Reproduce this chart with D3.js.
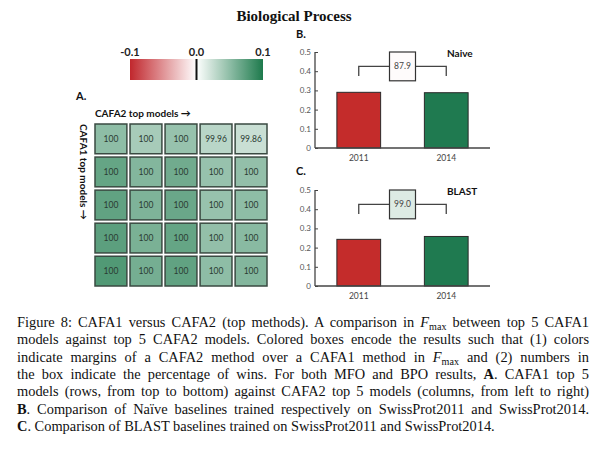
<!DOCTYPE html>
<html><head><meta charset="utf-8">
<script src="https://cdn.jsdelivr.net/npm/d3@7"></script>
<style>body{margin:0;background:#fff} svg{display:block}</style>
</head><body><svg id="c" width="604" height="471"></svg>
<script>
// ---------- data ----------
const title = "Biological Process";
const cafa1Models = ["CAFA1-1","CAFA1-2","CAFA1-3","CAFA1-4","CAFA1-5"];   // rows
const cafa2Models = ["CAFA2-1","CAFA2-2","CAFA2-3","CAFA2-4","CAFA2-5"];   // columns
const winPct = [
  ["100","100","100","99.96","99.86"],
  ["100","100","100","100","100"],
  ["100","100","100","100","100"],
  ["100","100","100","100","100"],
  ["100","100","100","100","100"]
];
const margins = [
  [0.050, 0.039, 0.046, 0.031, 0.024],
  [0.068, 0.055, 0.063, 0.046, 0.048],
  [0.070, 0.057, 0.066, 0.046, 0.050],
  [0.072, 0.059, 0.068, 0.048, 0.052],
  [0.077, 0.061, 0.070, 0.050, 0.055]
];
const colorTicks = [-0.1, 0.0, 0.1];
const colorTickLabels = ["-0.1", "0.0", "0.1"];
const years = ["2011", "2014"];
const naiveFmax = [0.290, 0.288];
const blastFmax = [0.243, 0.258];
const naiveWin = "87.9";
const blastWin = "99.0";
const yTicks = [0, 0.1, 0.2, 0.3, 0.4, 0.5];
const yTickLabels = ["0", "0.1", "0.2", "0.3", "0.4", "0.5"];
const captionLines = [
  [["Figure 8: CAFA1 versus CAFA2 (top methods). A comparison in ","n"],["F","i"],["max","s"],[" between top 5 CAFA1","n"]],
  [["models against top 5 CAFA2 models. Colored boxes encode the results such that (1) colors","n"]],
  [["indicate margins of a CAFA2 method over a CAFA1 method in ","n"],["F","i"],["max","s"],[" and (2) numbers in","n"]],
  [["the box indicate the percentage of wins. For both MFO and BPO results, ","n"],["A","b"],[". CAFA1 top 5","n"]],
  [["models (rows, from top to bottom) against CAFA2 top 5 models (columns, from left to right)","n"]],
  [["B","b"],[". Comparison of Naïve baselines trained respectively on SwissProt2011 and SwissProt2014.","n"]],
  [["C","b"],[". Comparison of BLAST baselines trained on SwissProt2011 and SwissProt2014.","n"]]
];

// ---------- drawing ----------
const svg = d3.select("#c");
const SANS = "Lato, 'DejaVu Sans', sans-serif";
const SERIF = "'Liberation Serif', 'Times New Roman', serif";

const green = "#1d7a4c", red = "#c1272d";
const color = d3.scaleLinear().domain([-0.1, 0, 0.1]).range([red, "#ffffff", green]);

svg.append("text").attr("x", 294).attr("y", 21).attr("text-anchor", "middle")
  .attr("font-family", SERIF).attr("font-weight", "bold").attr("font-size", 15)
  .attr("fill", "#111").text(title);

// colour bar
const cbX = d3.scaleLinear().domain([-0.1, 0.1]).range([130, 263]);
const defs = svg.append("defs");
const grad = defs.append("linearGradient").attr("id", "cb");
d3.range(0, 1.0001, 0.05).forEach(t => {
  grad.append("stop").attr("offset", t).attr("stop-color", color(-0.1 + 0.2 * t));
});
svg.append("rect").attr("x", cbX(-0.1)).attr("y", 59).attr("width", cbX(0.1) - cbX(-0.1)).attr("height", 21)
  .attr("fill", "url(#cb)");
svg.append("line").attr("x1", cbX(0)).attr("x2", cbX(0)).attr("y1", 59).attr("y2", 80)
  .attr("stroke", "#111").attr("stroke-width", 2);
svg.selectAll(".cbt").data(colorTicks).join("text")
  .attr("x", d => cbX(d)).attr("y", 56).attr("text-anchor", "middle")
  .attr("font-family", SANS).attr("font-weight", "bold").attr("font-size", 11).attr("fill", "#222")
  .text((d, i) => colorTickLabels[i]);

// panel A heatmap
const hx = d3.scaleBand().domain(cafa2Models).range([95, 267]).paddingInner(0.09);
const hy = d3.scaleBand().domain(cafa1Models).range([124, 286]).paddingInner(0.1);
svg.append("text").attr("x", 76).attr("y", 100).attr("font-family", SANS).attr("font-weight", "bold")
  .attr("font-size", 11).attr("fill", "#111").text("A.");
svg.append("text").attr("x", 95).attr("y", 117).attr("font-family", SANS).attr("font-weight", "bold")
  .attr("font-size", 10).attr("fill", "#111").text("CAFA2 top models →");
svg.append("text").attr("transform", "translate(79.5,124) rotate(90)").attr("font-family", SANS)
  .attr("font-weight", "bold").attr("font-size", 10).attr("fill", "#111").text("CAFA1 top models →");

const cells = [];
cafa1Models.forEach((r, i) => cafa2Models.forEach((c, j) =>
  cells.push({ r, c, m: margins[i][j], w: winPct[i][j] })));
const cg = svg.append("g").selectAll("g").data(cells).join("g");
cg.append("rect").attr("x", d => hx(d.c)).attr("y", d => hy(d.r))
  .attr("width", hx.bandwidth()).attr("height", hy.bandwidth())
  .attr("fill", d => color(d.m)).attr("stroke", "#3a4a42").attr("stroke-width", 1.5);
cg.append("text").attr("x", d => hx(d.c) + hx.bandwidth() / 2).attr("y", d => hy(d.r) + hy.bandwidth() / 2 + 3)
  .attr("text-anchor", "middle").attr("font-family", SANS).attr("font-size", 8.5).attr("fill", "#2a3a32")
  .text(d => d.w);

// bar panels
function barPanel(letter, label, values, win, y0, y1, labY) {
  const x = d3.scaleBand().domain(years).range([315, 490]).paddingInner(0.5).paddingOuter(0.25);
  const y = d3.scaleLinear().domain([0, 0.5]).range([y0, y1]);
  const g = svg.append("g");
  svg.append("text").attr("x", 296).attr("y", labY).attr("font-family", SANS).attr("font-weight", "bold")
    .attr("font-size", 11).attr("fill", "#111").text(letter);
  g.selectAll("rect.bar").data(values).join("rect")
    .attr("x", (d, i) => x(years[i])).attr("y", d => y(d))
    .attr("width", x.bandwidth()).attr("height", d => y(0) - y(d))
    .attr("fill", (d, i) => i === 0 ? "#c42c2b" : "#1f7a50")
    .attr("stroke", "#2a2a2a").attr("stroke-width", 1);
  const ya = d3.axisRight(y).tickValues(yTicks).tickSize(3).tickFormat("");
  const yg = g.append("g").attr("transform", "translate(315,0)").call(ya);
  yg.select(".domain").remove();
  yg.selectAll("line").attr("stroke", "#444");
  g.append("line").attr("x1", 315).attr("x2", 315).attr("y1", y(0)).attr("y2", y(0.5))
    .attr("stroke", "#444").attr("stroke-width", 1.3);
  g.selectAll("text.yt").data(yTicks).join("text")
    .attr("x", 311).attr("y", d => y(d) + 3).attr("text-anchor", "end")
    .attr("font-family", SANS).attr("font-size", 8).attr("fill", "#555")
    .text((d, i) => yTickLabels[i]);
  g.append("line").attr("x1", 315).attr("x2", 490).attr("y1", y(0)).attr("y2", y(0))
    .attr("stroke", "#444").attr("stroke-width", 1.3);
  g.selectAll("text.xt").data(years).join("text")
    .attr("x", d => x(d) + x.bandwidth() / 2).attr("y", y(0) + 13).attr("text-anchor", "middle")
    .attr("font-family", SANS).attr("font-size", 8.5).attr("fill", "#444").text(d => d);
  const c0 = x(years[0]) + x.bandwidth() / 2, c1 = x(years[1]) + x.bandwidth() / 2;
  const mid = (c0 + c1) / 2;
  g.append("path").attr("d", `M${c0},${y(0.375)}V${y(0.425)}H${c1}V${y(0.375)}`)
    .attr("fill", "none").attr("stroke", "#444").attr("stroke-width", 1.3);
  g.append("rect").attr("x", mid - 13).attr("y", y(0.5)).attr("width", 26).attr("height", y(0.35) - y(0.5))
    .attr("fill", color(values[1] - values[0])).attr("stroke", "#333").attr("stroke-width", 1.2);
  g.append("text").attr("x", mid).attr("y", y(0.425) + 3).attr("text-anchor", "middle")
    .attr("font-family", SANS).attr("font-size", 8.5).attr("fill", "#444").text(win);
  g.append("text").attr("x", 447).attr("y", y(0.5) + 5).attr("font-family", SANS).attr("font-weight", "bold")
    .attr("font-size", 10).attr("fill", "#111").text(label);
}
barPanel("B.", "Naive", naiveFmax, naiveWin, 148, 52, 38);
barPanel("C.", "BLAST", blastFmax, blastWin, 286, 190, 175);

// caption
const capLeft = 17, capRight = 589, capTop = 327, capStep = 17.3, capSize = 14.4;
captionLines.forEach((segs, li) => {
  const t = svg.append("text").attr("x", capLeft).attr("y", capTop + li * capStep)
    .attr("font-family", SERIF).attr("font-size", capSize).attr("fill", "#111");
  segs.forEach(([s, st]) => {
    const ts = t.append("tspan").text(s);
    if (st === "i") ts.attr("font-style", "italic");
    if (st === "b") ts.attr("font-weight", "bold");
    if (st === "s") ts.attr("font-size", capSize * 0.7).attr("dy", 3);
  });
  t.selectAll("tspan").each(function (d, k) {
    if (k > 0 && segs[k - 1][1] === "s") d3.select(this).attr("dy", -3);
  });
  if (li < captionLines.length - 1) {
    const w = t.node().getComputedTextLength();
    const nSpaces = segs.map(s => s[0]).join("").split(" ").length - 1;
    t.attr("word-spacing", (capRight - capLeft - w) / nSpaces);
  }
});
</script></body></html>
